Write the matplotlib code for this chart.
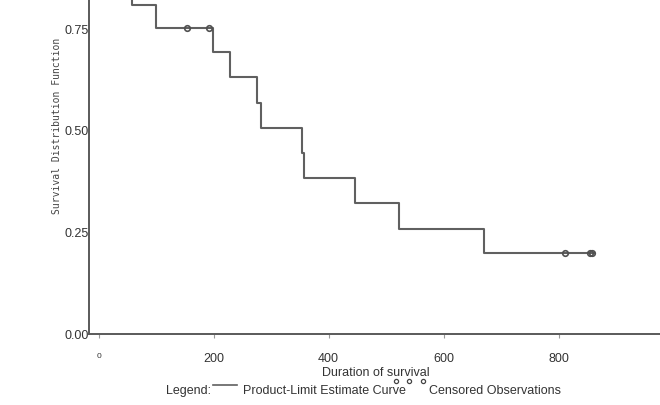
import matplotlib
matplotlib.use("Agg")
import matplotlib.pyplot as plt
from matplotlib.lines import Line2D

# ---- data ----
times = [0, 57, 99, 198, 228, 276, 283, 353, 357, 445, 522, 670, 861]
survival = [0.875, 0.806, 0.75, 0.691, 0.630, 0.566, 0.505, 0.444, 0.382, 0.321, 0.257, 0.199, 0.199]
censor_times = [153, 191, 812, 854, 859]
censor_surv = [0.75, 0.75, 0.199, 0.199, 0.199]
x_ticks = [0, 200, 400, 600, 800]
x_ticklabels = ["0", "200", "400", "600", "800"]
y_ticks = [0.0, 0.25, 0.50, 0.75]
y_ticklabels = ["0.00", "0.25", "0.50", "0.75"]

W, H = 660, 406
plt.rcParams['font.family'] = ['Liberation Sans', 'DejaVu Sans']
fig = plt.figure(figsize=(W / 100, H / 100), dpi=100)

def fx(px):
    return px / W

def fy(py):
    return (H - py) / H

# axes placed so that the top and right run beyond the figure (cropped look)
ax = fig.add_axes([fx(89), fy(335), (673.5 - 89) / W, 408 / H])
ax.set_xlim(-17, 1000)
ax.set_ylim(0, 1.0)

line_col = "#606060"
ax.step(times, survival, where="post", color=line_col, lw=1.5)
ax.plot(censor_times, censor_surv, linestyle="none", marker="o", ms=4,
        mfc="none", mec="#505050", mew=1.2)

for s in ["top", "right"]:
    ax.spines[s].set_visible(False)
for s in ["left", "bottom"]:
    ax.spines[s].set_color("#5a5a5a")
    ax.spines[s].set_linewidth(1.4)

ax.set_xticks(x_ticks)
ax.set_xticklabels(x_ticklabels)
ax.set_yticks(y_ticks)
ax.set_yticklabels(y_ticklabels)
ax.tick_params(axis="y", length=0, pad=0, labelsize=9, labelcolor="#333333")
ax.tick_params(axis="x", direction="out", length=3, width=0.8, color="#999999",
               pad=10, labelsize=9, labelcolor="#333333")
lbls = ax.get_xticklabels()
lbls[0].set_fontsize(6)

# axis labels
fig.text(fx(376), fy(373), "Duration of survival", ha="center", va="center",
         fontsize=9, color="#333333")
fig.text(fx(57), fy(126), "Survival Distribution Function", rotation=90,
         ha="center", va="center", fontsize=7, family="DejaVu Sans Mono",
         color="#444444")

# legend line at the bottom
fig.text(fx(166), fy(391), "Legend:", ha="left", va="center", fontsize=9, color="#333333")
fig.add_artist(Line2D([fx(213), fx(237)], [fy(386), fy(386)], color=line_col, lw=1.2))
fig.text(fx(243), fy(391), "Product-Limit Estimate Curve", ha="left", va="center",
         fontsize=9, color="#333333")
fig.add_artist(Line2D([fx(396), fx(409), fx(423)], [fy(382)] * 3, linestyle="none",
                      marker="o", ms=3, mfc="none", mec="#444444", mew=0.9))
fig.text(fx(429), fy(391), "Censored Observations", ha="left", va="center",
         fontsize=9, color="#333333")

fig.savefig("out.png", dpi=100)
